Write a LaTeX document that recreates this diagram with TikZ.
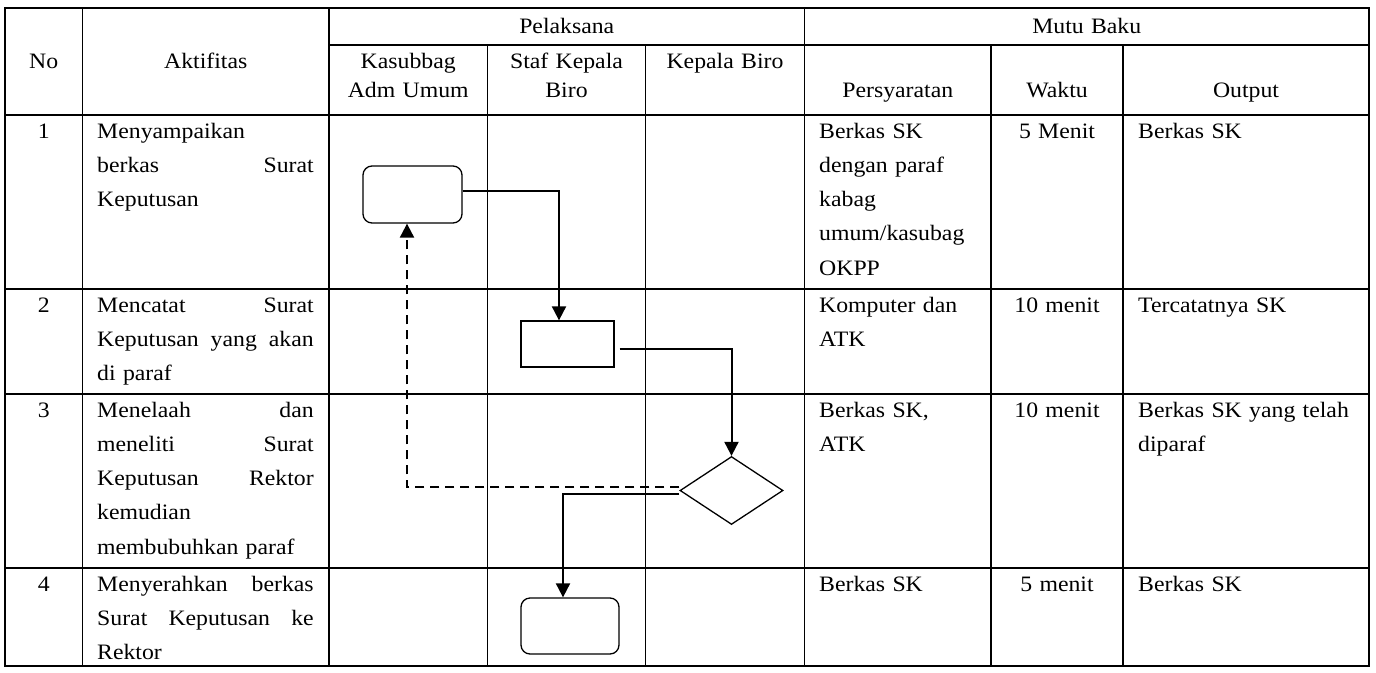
\documentclass[tikz,border=0pt]{standalone}
\usepackage{fontspec}
\setmainfont{Liberation Serif}[FakeStretch=1.08]
\usetikzlibrary{positioning,calc,arrows.meta,shapes.geometric}

\tikzset{
  garis/.style={line width=1.3pt},
  teks/.style={inner sep=0pt,font=\fontsize{22}{34.3}\selectfont},
  hdr/.style={teks,anchor=base,align=center,font=\fontsize{22}{29.7}\selectfont},
  nomor/.style={teks,anchor=base,align=center,text width=120pt},
  isi/.style={teks,anchor=base west,align=left},
  kotak/.style={draw,line width=1.3pt,inner sep=0pt},
  rkotak/.style={kotak,rounded corners=9pt},
  cek/.style={kotak,diamond,minimum width=103pt,minimum height=68pt},
  alur/.style={line width=2pt,-{Triangle[length=14pt,width=14pt]}},
  balik/.style={alur,dash pattern=on 9pt off 6pt},
}

\begin{document}
\begin{tikzpicture}[x=1pt,y=-1pt]
		\useasboundingbox (0,0) rectangle (1376,672);
		% tabel
		\draw[garis] (5,8) rectangle (1369,666);
		\foreach \y in {115,289,394,568} \draw[garis] (5,\y) -- (1369,\y);
		\draw[garis] (329,45) -- (1369,45);
		\foreach \x in {82.5,329,804.5} \draw[garis] (\x,8) -- (\x,666);
		\foreach \x in {487.5,645.5,991,1123} \draw[garis] (\x,45) -- (\x,666);
		
		% judul kolom
		\node[hdr,text width=70pt] (hno) at (43.75,68) {No};
		\node[hdr,text width=230pt] (hakt) at (205.75,68) {Aktifitas};
		\node[hdr,text width=460pt] (hpel) at (566.75,33) {Pelaksana};
		\node[hdr,text width=550pt] (hmutu) at (1086.75,33) {Mutu Baku};
		\node[hdr,text width=150pt] (hkas) at (408.25,68) {Kasubbag\\Adm Umum};
		\node[hdr,text width=150pt] (hstaf) at (566.5,68) {Staf Kepala\\Biro};
		\node[hdr,text width=150pt] (hkep) at (725,68) {Kepala Biro};
		\node[hdr,text width=170pt] (hsyarat) at (897.75,97) {Persyaratan};
		\node[hdr,text width=125pt] (hwaktu) at (1057,97) {Waktu};
		\node[hdr,text width=230pt] (hout) at (1246,97) {Output};
		
		% baris 1
		\node[nomor] (no1) at (43.75,138) {1};
		\node[isi,text width=216.5pt] (akt1) at (97,138) {Menyampaikan\\berkas\hfill Surat\\Keputusan};
		\node[isi,text width=165pt] (syarat1) at (819,138) {Berkas SK\\dengan paraf\\kabag\\umum/kasubag\\OKPP};
		\node[nomor] (waktu1) at (1057,138) {5 Menit};
		\node[isi,text width=225pt] (out1) at (1138,138) {Berkas SK};
		% baris 2
		\node[nomor] (no2) at (43.75,312) {2};
		\node[isi,text width=216.5pt] (akt2) at (97,312) {Mencatat\hfill Surat\\Keputusan\hfill yang\hfill akan\\di paraf};
		\node[isi,text width=165pt] (syarat2) at (819,312) {Komputer dan\\ATK};
		\node[nomor] (waktu2) at (1057,312) {10 menit};
		\node[isi,text width=225pt] (out2) at (1138,312) {Tercatatnya SK};
		% baris 3
		\node[nomor] (no3) at (43.75,417) {3};
		\node[isi,text width=216.5pt] (akt3) at (97,417) {Menelaah\hfill dan\\meneliti\hfill Surat\\Keputusan\hfill Rektor\\kemudian\\membubuhkan paraf};
		\node[isi,text width=165pt] (syarat3) at (819,417) {Berkas SK,\\ATK};
		\node[nomor] (waktu3) at (1057,417) {10 menit};
		\node[isi,text width=225pt] (out3) at (1138,417) {Berkas SK yang telah\\diparaf};
		% baris 4
		\node[nomor] (no4) at (43.75,591) {4};
		\node[isi,text width=216.5pt] (akt4) at (97,591) {Menyerahkan\hfill berkas\\Surat\hfill Keputusan\hfill ke\\Rektor};
		\node[isi,text width=165pt] (syarat4) at (819,591) {Berkas SK};
		\node[nomor] (waktu4) at (1057,591) {5 menit};
		\node[isi,text width=225pt] (out4) at (1138,591) {Berkas SK};
		
		% bagan alir
		\node[rkotak,minimum width=99pt,minimum height=57pt] (kirim) at (412.5,194.5) {};
		\node[kotak,minimum width=93pt,minimum height=46pt] (catat) at (567.5,344) {};
		\node[cek] (telaah) at (731.5,490.5) {};
		\node[rkotak,minimum width=98pt,minimum height=56pt] (serah) at (570,626) {};
		
		\draw[alur] ([yshift=4pt]kirim.east) -| ([xshift=-8.5pt]catat.north);
		\draw[alur] ([xshift=5pt,yshift=-5pt]catat.east) -| (telaah.north);
		\draw[balik] ([yshift=3.5pt]telaah.west) -| ([xshift=-5.5pt]kirim.south);
		\draw[alur] ([yshift=-3.5pt]telaah.west) -| ([xshift=-7pt]serah.north);
	\end{tikzpicture}
\end{document}
